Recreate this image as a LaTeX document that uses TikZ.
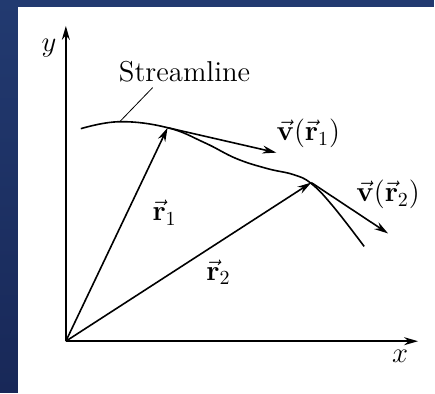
\documentclass[tikz,border=0pt]{standalone}
\usepackage{amsmath}
\usepackage{amssymb}
\usepackage{tikz}
\usetikzlibrary{arrows.meta,positioning}

\definecolor{slideblue}{RGB}{24,40,88}
\definecolor{slidetop}{RGB}{34,58,112}

\begin{document}
\begin{tikzpicture}[
    x=0.5pt, y=-0.5pt,
    >={Stealth[length=7pt,width=4pt]},
    axis/.style={->, thick},
    vect/.style={->, thick},
    curve/.style={thick},
    lbl/.style={font=\Large, inner sep=1pt}
]

% background and white panel
\shade[top color=slidetop, bottom color=slideblue] (0,0) rectangle (435,393);
\fill[white] (18,7) rectangle (436,394);
\useasboundingbox (0,0) rectangle (435,393);

\coordinate (O) at (66,342);
\coordinate (P1) at (168,128);
\coordinate (P2) at (312,183);
\coordinate (xend) at (419,342);
\coordinate (yend) at (66,26);
\coordinate (v1end) at (277,153);
\coordinate (v2end) at (389,234);

% axes
\draw[axis] (O) -- (xend);
\draw[axis] (O) -- (yend);
\node[lbl] (xlab) at (401,357) {$x$};
\node[lbl] (ylab) at (49,48) {$y$};

% streamline
\draw[curve] plot[smooth, tension=0.7] coordinates {
    (81,129) (120,122) (168,128) (205,143) (237,159) (268,169)
    (294,175) (312,184) (334,207) (365,247)};

% position vectors
\draw[vect] (O) -- (P1);
\draw[vect] (O) -- (P2);

% velocity vectors
\draw[vect] (P1) -- (v1end);
\draw[vect] (P2) -- (v2end);

% labels
\node[lbl] (slabel) at (185,72) {Streamline};
\coordinate (lead) at (120,122);
\draw[thin] (slabel.south) ++(-32,3) coordinate (leadtop) -- (lead);
\node[lbl] (v1lab) at (309,134) {$\vec{\mathbf{v}}(\vec{\mathbf{r}}_1)$};
\node[lbl] (v2lab) at (389,195) {$\vec{\mathbf{v}}(\vec{\mathbf{r}}_2)$};
\node[lbl] (r1lab) at (165,213) {$\vec{\mathbf{r}}_1$};
\node[lbl] (r2lab) at (219,273) {$\vec{\mathbf{r}}_2$};

\end{tikzpicture}
\end{document}
